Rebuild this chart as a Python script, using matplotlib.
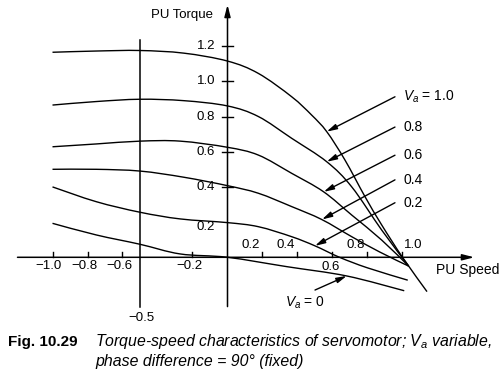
import matplotlib
matplotlib.use("Agg")
import matplotlib.pyplot as plt
from matplotlib.path import Path
from matplotlib.patches import PathPatch

plt.rcParams["font.family"] = ["Liberation Sans", "DejaVu Sans"]
plt.rcParams["mathtext.fontset"] = "custom"
plt.rcParams["mathtext.rm"] = "Liberation Sans"
plt.rcParams["mathtext.it"] = "Liberation Sans:italic"

# curves: (PU speed, PU torque) for each armature voltage
va_levels = ["1.0", "0.8", "0.6", "0.4", "0.2", "0"]

speed_10 = [-1.0, -0.75, -0.5, -0.25, 0.0, 0.176, 0.367, 0.481, 0.567, 0.671, 0.786, 0.881, 1.0, 1.14]
torque_10 = [1.165, 1.172, 1.175, 1.16, 1.115, 1.045, 0.912, 0.808, 0.714, 0.553, 0.344, 0.184, 0.0, -0.195]

speed_08 = [-1.0, -0.75, -0.5, -0.25, 0.0, 0.176, 0.367, 0.567, 0.71, 0.881, 1.035]
torque_08 = [0.865, 0.885, 0.898, 0.89, 0.86, 0.80, 0.676, 0.543, 0.40, 0.155, -0.05]

speed_06 = [-1.0, -0.75, -0.5, -0.27, 0.0, 0.176, 0.367, 0.548, 0.71, 0.881, 1.035]
torque_06 = [0.628, 0.644, 0.66, 0.66, 0.625, 0.581, 0.477, 0.373, 0.24, 0.098, -0.05]

speed_04 = [-1.0, -0.75, -0.5, -0.25, 0.0, 0.176, 0.367, 0.538, 0.71, 0.87, 1.035]
torque_04 = [0.50, 0.50, 0.49, 0.455, 0.407, 0.364, 0.288, 0.215, 0.117, 0.03, -0.05]

speed_02 = [-1.0, -0.75, -0.5, -0.27, 0.0, 0.176, 0.367, 0.5, 0.64, 0.8, 1.03]
torque_02 = [0.40, 0.316, 0.256, 0.218, 0.197, 0.174, 0.117, 0.065, 0.0, -0.06, -0.13]

speed_00 = [-1.0, -0.75, -0.5, -0.27, 0.0, 0.338, 0.681, 1.01]
torque_00 = [0.193, 0.127, 0.074, 0.019, 0.0, -0.053, -0.106, -0.19]

x_ticks = [-1.0, -0.8, -0.6, -0.2, 0.2, 0.4, 0.6, 0.8, 1.0]
x_tick_labels = ["\u22121.0", "\u22120.8", "\u22120.6", "\u22120.2", "0.2", "0.4", "0.6", "0.8", "1.0"]
y_ticks = [0.4, 0.6, 0.8, 1.0, 1.2]
y_tick_labels = ["0.2", "0.4", "0.6", "0.8", "1.0", "1.2"]
y_label_values = [0.2, 0.4, 0.6, 0.8, 1.0, 1.2]

# arrow tips on each curve, label anchors
tip_points = [(0.567, 0.714), (0.567, 0.543), (0.55, 0.372), (0.54, 0.215), (0.5, 0.065)]
tail_y = [0.912, 0.74, 0.58, 0.44, 0.31]


def smooth_path(xs, ys):
    # bezier through the read points (catmull-rom handles)
    pts = list(zip(xs, ys))
    verts = [pts[0]]
    codes = [Path.MOVETO]
    for i in range(len(pts) - 1):
        p0 = pts[i - 1] if i > 0 else pts[i]
        p1 = pts[i]
        p2 = pts[i + 1]
        p3 = pts[i + 2] if i + 2 < len(pts) else pts[i + 1]
        c1 = (p1[0] + (p2[0] - p0[0]) / 6, p1[1] + (p2[1] - p0[1]) / 6)
        c2 = (p2[0] - (p3[0] - p1[0]) / 6, p2[1] - (p3[1] - p1[1]) / 6)
        verts += [c1, c2, p2]
        codes += [Path.CURVE4] * 3
    return Path(verts, codes)


fig = plt.figure(figsize=(5.01, 3.73), dpi=100)
ax = fig.add_axes([0, 0, 1, 1])
ax.set_xlim(-227.5 / 175, (501 - 227.5) / 175)
ax.set_ylim((257.3 - 373) / 176, 257.3 / 176)
ax.axis("off")

curves = [(speed_10, torque_10), (speed_08, torque_08), (speed_06, torque_06),
          (speed_04, torque_04), (speed_02, torque_02), (speed_00, torque_00)]
for xs, ys in curves:
    ax.add_patch(PathPatch(smooth_path(xs, ys), facecolor="none", edgecolor="black", lw=1.0))

# axes with arrows
head = dict(arrowstyle="-|>,head_length=0.7,head_width=0.18", color="black", lw=1.1,
            shrinkA=0, shrinkB=0)
ax.annotate("", xy=(0, 1.435), xytext=(0, -0.28), arrowprops=head)
ax.annotate("", xy=(1.41, 0), xytext=(-1.2, 0), arrowprops=head)
ax.plot([-0.5, -0.5], [1.235, -0.28], color="black", lw=1.1)
ax.text(-0.49, -0.345, "\u22120.5", ha="center", va="center", fontsize=9.5)

ax.text(-0.085, 1.375, "PU Torque", ha="right", va="center", fontsize=9.5)
ax.text(1.19, -0.072, "PU Speed", ha="left", va="center", fontsize=10)

for t in y_ticks:
    ax.plot([-0.031, 0.031], [t, t], color="black", lw=1.0)
for v, lab in zip(y_label_values, y_tick_labels):
    dy = -0.03 if v == 0.2 else 0.0
    ax.text(-0.07, v + dy, lab, ha="right", va="center", fontsize=9.5)

for t, lab in zip(x_ticks, x_tick_labels):
    ax.plot([t, t], [0, 0.03], color="black", lw=1.0)
    if t < 0:
        ax.text(t - 0.02, -0.05, lab, ha="center", va="center", fontsize=9.5)
    elif lab == "0.6":
        ax.text(t - 0.01, -0.053, lab, ha="center", va="center", fontsize=9.5)
    elif lab == "1.0":
        ax.text(t + 0.06, 0.07, lab, ha="center", va="center", fontsize=9.5)
    else:
        ax.text(t - 0.065, 0.07, lab, ha="center", va="center", fontsize=9.5)

# curve labels with pointer arrows
pointer = dict(arrowstyle="-|>,head_length=0.6,head_width=0.16", color="black", lw=1.0,
               shrinkA=0, shrinkB=0)
for lvl, (tx, ty), yy in zip(va_levels[:5], tip_points, tail_y):
    ax.annotate("", xy=(tx, ty), xytext=(0.957, yy), arrowprops=pointer)
    text = r"$V_a$ = " + lvl if lvl == "1.0" else lvl
    ax.text(1.003, yy, text, ha="left", va="center", fontsize=10)

ax.annotate("", xy=(0.681, -0.106), xytext=(0.5, -0.186), arrowprops=pointer)
ax.text(0.443, -0.26, r"$V_a$ = " + va_levels[5], ha="center", va="center", fontsize=10)

# caption
ax.text(8 / 175 - 227.5 / 175, (257.3 - 341.7) / 176, "Fig. 10.29", ha="left", va="center",
        fontsize=11, fontweight="bold")
ax.text(95 / 175 - 227.5 / 175, (257.3 - 341.7) / 176,
        r"Torque-speed characteristics of servomotor; $V_a$ variable,",
        ha="left", va="center", fontsize=11.4, style="italic")
ax.text(95 / 175 - 227.5 / 175, (257.3 - 361.7) / 176,
        "phase difference = 90\u00b0 (fixed)",
        ha="left", va="center", fontsize=11.4, style="italic")

fig.savefig("out.png", dpi=100)
